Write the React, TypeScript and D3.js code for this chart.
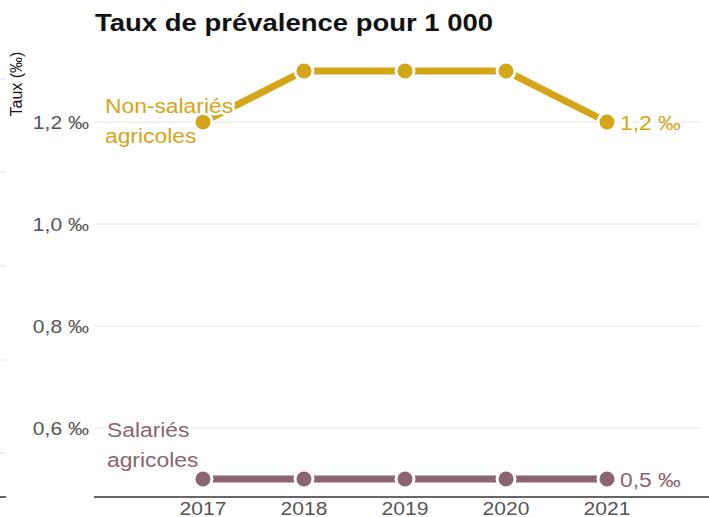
import React from "react";
import * as d3 from "d3";

const years = [2017, 2018, 2019, 2020, 2021];
const nonSalaries = [1.2, 1.3, 1.3, 1.3, 1.2];
const salaries = [0.5, 0.5, 0.5, 0.5, 0.5];
const yTicks = [0.6, 0.8, 1.0, 1.2];
const yTickLabels = ["0,6 ‰", "0,8 ‰", "1,0 ‰", "1,2 ‰"];
const title = "Taux de prévalence pour 1 000";
const yTitle = "Taux (‰)";
const seriesNames = [["Non-salariés", "agricoles"], ["Salariés", "agricoles"]];
const endLabels = ["1,2 ‰", "0,5 ‰"];
const leftMarks = [79, 172, 266, 360, 453];

const GOLD = "#D4A517";
const MAUVE = "#8C6471";
const SX = 1.17;
const FONT = "'Liberation Sans', Arial, sans-serif";

function T(props: any) {
  const { x, y, children, anchor = "start", size = 18, fill = "#555", weight = "normal", halo = false } = props;
  return (
    <text
      transform={`translate(${x},${y}) scale(${SX},1)`}
      textAnchor={anchor}
      fontSize={size}
      fontFamily={FONT}
      fontWeight={weight}
      fill={fill}
      stroke={halo ? "#fff" : "none"}
      strokeWidth={halo ? 5 : 0}
      strokeLinejoin="round"
      style={{ paintOrder: "stroke" }}
    >
      {children}
    </text>
  );
}

export default function App() {
  const W = 709, H = 517;
  const x = d3.scaleLinear().domain([2017, 2021]).range([203, 607]);
  const y = d3.scaleLinear().domain([0.6, 1.2]).range([428, 122]);
  const line = d3.line<number>().x((_, i) => x(years[i])).y((v) => y(v));
  const series = [
    { vals: nonSalaries, color: GOLD },
    { vals: salaries, color: MAUVE },
  ];
  return (
    <svg width={W} height={H} style={{ position: "absolute", left: 0, top: 0, background: "#fff" }}>
      <rect width={W} height={H} fill="#fff" />
      {leftMarks.map((m) => (
        <line key={m} x1={0} x2={6} y1={m} y2={m} stroke="#ddd" strokeWidth={1} />
      ))}
      {yTicks.map((t) => (
        <line key={t} x1={95} x2={700} y1={y(t)} y2={y(t)} stroke="#e2e2e2" strokeWidth={1} />
      ))}
      {yTicks.map((t, i) => (
        <T key={"l" + t} x={89} y={y(t) + 6.5} anchor="end" size={18} fill="#555">
          {yTickLabels[i]}
        </T>
      ))}
      <line x1={94} x2={709} y1={497} y2={497} stroke="#333" strokeWidth={1.5} />
      <line x1={0} x2={6} y1={497} y2={497} stroke="#333" strokeWidth={1.5} />
      {years.map((yr) => (
        <T key={yr} x={x(yr)} y={515} anchor="middle" size={18} fill="#555">
          {yr}
        </T>
      ))}
      <T x={95} y={31} size={23.5} weight="bold" fill="#111">
        {title}
      </T>
      <text
        transform={`translate(22,84) rotate(-90)`}
        textAnchor="middle"
        fontSize={16}
        fontFamily={FONT}
        fill="#111"
      >
        {yTitle}
      </text>
      {series.map((s, si) => (
        <g key={si}>
          <path d={line(s.vals) || ""} fill="none" stroke={s.color} strokeWidth={7} />
          {s.vals.map((v, i) => (
            <circle key={i} cx={x(years[i])} cy={y(v)} r={9} fill={s.color} stroke="#fff" strokeWidth={3} />
          ))}
        </g>
      ))}
      <T x={105} y={113} size={19.5} fill={GOLD} halo>
        {seriesNames[0][0]}
      </T>
      <T x={105} y={143} size={19.5} fill={GOLD} halo>
        {seriesNames[0][1]}
      </T>
      <T x={107} y={437} size={19.5} fill={MAUVE} halo>
        {seriesNames[1][0]}
      </T>
      <T x={107} y={467} size={19.5} fill={MAUVE} halo>
        {seriesNames[1][1]}
      </T>
      <T x={620} y={y(nonSalaries[4]) + 7.5} size={19.5} fill={GOLD} halo>
        {endLabels[0]}
      </T>
      <T x={620} y={y(salaries[4]) + 7.5} size={19.5} fill={MAUVE} halo>
        {endLabels[1]}
      </T>
    </svg>
  );
}
